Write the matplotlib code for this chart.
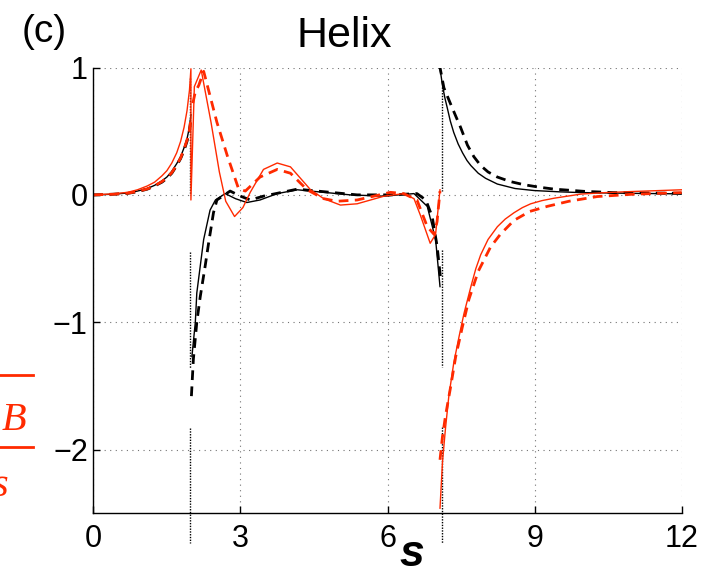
import matplotlib
matplotlib.use("Agg")
import matplotlib.pyplot as plt
from matplotlib.lines import Line2D

RED = "#ff2a00"

# black solid, three branches
blk_s1 = [0, 0.4, 0.7, 0.9, 1.1, 1.25, 1.4, 1.5, 1.6, 1.7, 1.78, 1.85, 1.91, 1.96, 1.99]
blk_y1 = [0, 0.005, 0.015, 0.03, 0.05, 0.075, 0.11, 0.14, 0.185, 0.245, 0.3, 0.37, 0.44, 0.53, 0.63]
blk_s2 = [2.01, 2.08, 2.11, 2.18, 2.25, 2.38, 2.49, 2.69, 2.9, 3.13, 3.4, 3.75, 4.16, 4.7, 5.24,
          5.92, 6.54, 6.81, 6.98, 7.07]
blk_y2 = [-1.27, -1.0, -0.77, -0.56, -0.35, -0.12, -0.04, 0.01, -0.03, -0.06, -0.04, 0.01, 0.04,
          0.02, 0.0, -0.01, 0.01, -0.09, -0.35, -0.72]
blk_s3 = [7.06, 7.12, 7.17, 7.22, 7.28, 7.35, 7.44, 7.53, 7.62, 7.7, 7.85, 8.0, 8.24, 8.6, 8.99,
          9.5, 9.94, 11.0, 12]
blk_y3 = [1.02, 0.86, 0.76, 0.68, 0.58, 0.49, 0.4, 0.33, 0.27, 0.23, 0.17, 0.13, 0.085, 0.05,
          0.034, 0.024, 0.018, 0.012, 0.008]

# black dashed
bkd_s1 = [0, 0.4, 0.7, 0.9, 1.1, 1.25, 1.4, 1.5, 1.6, 1.7, 1.78, 1.85, 1.91, 1.96, 1.99]
bkd_y1 = [0, 0.005, 0.012, 0.025, 0.045, 0.07, 0.1, 0.13, 0.17, 0.23, 0.285, 0.35, 0.42, 0.5, 0.6]
bkd_s2 = [2.0, 2.04, 2.11, 2.18, 2.28, 2.35, 2.45, 2.52, 2.79, 3.0, 3.2, 3.47, 4.16, 4.7, 5.38,
          6.06, 6.6, 6.78, 6.91, 7.01, 7.08]
bkd_y2 = [-1.58, -1.29, -1.0, -0.8, -0.56, -0.38, -0.14, -0.04, 0.03, -0.01, -0.04, -0.01, 0.045,
          0.025, 0.0, 0.0, 0.01, -0.04, -0.17, -0.4, -0.65]
bkd_s3 = [7.06, 7.15, 7.29, 7.4, 7.49, 7.63, 7.76, 7.9, 8.05, 8.24, 8.5, 8.78, 9.1, 9.4, 10.0,
          10.6, 12]
bkd_y3 = [1.02, 0.84, 0.71, 0.61, 0.53, 0.39, 0.3, 0.23, 0.18, 0.14, 0.105, 0.08, 0.06, 0.045,
          0.028, 0.018, 0.012]

# red solid
red_s1 = [0, 0.4, 0.7, 0.9, 1.1, 1.25, 1.4, 1.5, 1.6, 1.7, 1.78, 1.85, 1.91, 1.96, 1.99,
          1.99, 2.06, 2.2, 2.4, 2.57, 2.7, 2.88, 3.05, 3.2, 3.47, 3.75, 4.02, 4.43, 4.7, 5.04,
          5.38, 5.93, 6.33, 6.54, 6.67, 6.87, 6.98, 7.07]
red_y1 = [0, 0.008, 0.02, 0.04, 0.07, 0.1, 0.15, 0.19, 0.25, 0.33, 0.42, 0.53, 0.66, 0.82, 0.99,
          -0.04, 0.85, 0.98, 0.57, 0.18, -0.05, -0.17, -0.1, 0.02, 0.2, 0.25, 0.22, 0.04, -0.03, -0.08,
          -0.07, -0.01, 0.01, -0.03, -0.16, -0.38, -0.31, 0.04]
red_s2 = [7.07, 7.12, 7.18, 7.25, 7.35, 7.46, 7.56, 7.7, 7.8, 7.9, 8.05, 8.24, 8.4, 8.58, 8.75,
          8.92, 9.15, 9.4, 9.94, 10.4, 10.96, 12]
red_y2 = [-2.46, -2.1, -1.84, -1.58, -1.32, -1.11, -0.93, -0.72, -0.58, -0.47, -0.35, -0.25,
          -0.19, -0.14, -0.1, -0.07, -0.045, -0.026, 0.006, 0.017, 0.026, 0.04]

# red dashed
rdd_s1 = [0, 0.4, 0.7, 0.9, 1.1, 1.25, 1.4, 1.5, 1.6, 1.7, 1.78, 1.85, 1.91, 1.96, 1.99]
rdd_y1 = [0, 0.005, 0.013, 0.027, 0.047, 0.072, 0.105, 0.135, 0.175, 0.235, 0.29, 0.36, 0.43, 0.51, 0.6]
rdd_s2 = [2.03, 2.08, 2.15, 2.25, 2.52, 2.73, 2.96, 3.1, 3.4, 3.75, 4.02, 4.36, 4.7, 4.97, 5.38,
          6.06, 6.33, 6.6, 6.81, 6.95, 7.01, 7.07]
rdd_y2 = [0.72, 0.81, 0.86, 0.97, 0.57, 0.31, 0.05, 0.03, 0.14, 0.2, 0.17, 0.04, -0.03, -0.05,
          -0.04, 0.02, 0.01, -0.04, -0.25, -0.31, -0.21, 0.03]
rdd_s3 = [7.07, 7.12, 7.18, 7.29, 7.39, 7.53, 7.66, 7.85, 8.1, 8.3, 8.58, 8.9, 9.26, 9.7, 10.28,
          11.0, 12]
rdd_y3 = [-2.08, -1.9, -1.74, -1.5, -1.27, -1.03, -0.82, -0.6, -0.41, -0.31, -0.2, -0.13, -0.09,
          -0.05, -0.013, 0.005, 0.018]

# dotted jump markers (position, y-extent of each piece)
jump_s = [1.98, 7.11]
jump_pieces = [[(0.92, 0.0), (-0.45, -1.36), (-1.83, -2.73)],
               [(0.85, 0.03), (-0.43, -1.35), (-1.82, -2.73)]]

xticks = [0, 3, 6, 9, 12]
yticks = [-2, -1, 0, 1]

plt.rcParams["font.family"] = ["Liberation Sans", "DejaVu Sans"]

fig = plt.figure(figsize=(7.05, 5.77), dpi=100)
ax = fig.add_axes([0.1324, 0.1104, 0.8346, 0.7726])

ax.grid(True, linestyle=(0, (1, 4)), color="0.45", lw=0.8)
ax.set_axisbelow(True)

for s, pieces in zip(jump_s, jump_pieces):
    for y0, y1 in pieces:
        ax.plot([s, s], [y0, y1], color="black", lw=1.0, linestyle=(0, (1, 1)), clip_on=False)

dash = (3.5, 2.3)
for xs, ys in [(blk_s1, blk_y1), (blk_s2, blk_y2), (blk_s3, blk_y3)]:
    ax.plot(xs, ys, color="black", lw=1.0)
for xs, ys in [(bkd_s1, bkd_y1), (bkd_s2, bkd_y2), (bkd_s3, bkd_y3)]:
    ax.plot(xs, ys, color="black", lw=2.0, dashes=dash)
for xs, ys in [(rdd_s1, rdd_y1), (rdd_s2, rdd_y2), (rdd_s3, rdd_y3)]:
    ax.plot(xs, ys, color=RED, lw=2.0, dashes=dash)
for xs, ys in [(red_s1, red_y1), (red_s2, red_y2)]:
    ax.plot(xs, ys, color=RED, lw=1.0)

ax.set_xlim(0, 12)
ax.set_ylim(-2.5, 1)
ax.set_xticks(xticks)
ax.set_yticks(yticks)
ax.set_xticklabels([str(t) for t in xticks])
ax.set_yticklabels([str(t).replace("-", "\u2212") for t in yticks])
ax.tick_params(direction="in", length=5, width=1, labelsize=22)
ax.tick_params(axis="x", pad=8)
ax.tick_params(axis="y", pad=4)
for side in ["top", "right"]:
    ax.spines[side].set_visible(False)
for side in ["left", "bottom"]:
    ax.spines[side].set_linewidth(1.0)

fig.text(344.5 / 705, 1 - 46.7 / 577, "Helix", fontsize=31, ha="center", va="baseline")
fig.text(22 / 705, 1 - 42 / 577, "(c)", fontsize=28, ha="left", va="baseline")
fig.text(412 / 705, 1.5 / 577, "s", fontsize=32, style="italic", weight="bold",
         ha="center", va="bottom")

# piece of the neighbouring panel's label, cut by the left edge
for yy in [375, 446.7]:
    fig.add_artist(Line2D([0, 33 / 705], [1 - yy / 577] * 2, color=RED, lw=2.0))
fig.text(26 / 705, 1 - 430 / 577, "B", fontsize=29, family="Liberation Serif",
         style="italic", color=RED, ha="right", va="baseline")
fig.text(8 / 705, 1 - 496 / 577, "s", fontsize=29, family="Liberation Serif",
         style="italic", color=RED, ha="right", va="baseline")

fig.savefig("out.png", dpi=100)
